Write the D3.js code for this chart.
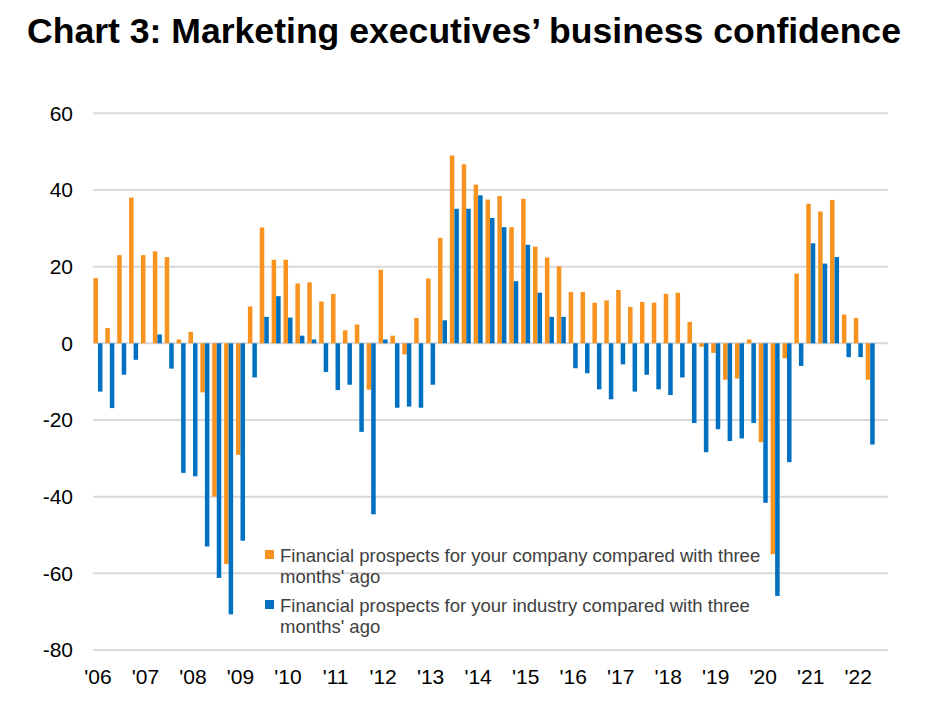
<!DOCTYPE html>
<html>
<head>
<meta charset="utf-8">
<script src="https://cdn.jsdelivr.net/npm/d3@7/dist/d3.min.js"></script>
<style>
  html, body { margin: 0; padding: 0; background: #fff; }
  svg { display: block; font-family: "Liberation Sans", Arial, sans-serif; }
</style>
</head>
<body>
<svg id="chart" width="930" height="709"></svg>
<script>
// ---- data (quarterly, 2006Q1 .. 2022Q3; last quarter has no data yet) ----
const years = ["'06","'07","'08","'09","'10","'11","'12","'13","'14","'15","'16","'17","'18","'19","'20","'21","'22"];
const quarters = [];
years.forEach(yr => ["Q1","Q2","Q3","Q4"].forEach(q => quarters.push(yr + q)));
const categories = quarters.slice(0, 67);

const companyValues = [
  17, 4, 23, 38, 23, 24, 22.5, 1, 3, -12.8, -40, -57.6, -29.1, 9.6, 30.2, 21.8,
  21.8, 15.6, 15.9, 10.9, 12.9, 3.4, 4.9, -12.1, 19.2, 2.0, -2.9, 6.6, 16.9, 27.5, 49.0, 46.7,
  41.4, 37.5, 38.4, 30.3, 37.7, 25.2, 22.4, 20.1, 13.4, 13.4, 10.6, 11.2, 13.9, 9.5, 10.8, 10.6,
  12.9, 13.2, 5.6, -0.9, -2.5, -9.5, -9.2, 1.0, -25.8, -55.0, -3.9, 18.2, 36.4, 34.4, 37.4, 7.5,
  6.6, -9.5
];
const industryValues = [
  -12.6, -16.9, -8.2, -4.3, 0, 2.3, -6.6, -33.8, -34.7, -53.0, -61.2, -70.7, -51.5, -8.9, 6.9, 12.3,
  6.7, 2.0, 1.0, -7.5, -12.2, -10.8, -23.1, -44.6, 1.0, -16.8, -16.5, -16.8, -10.8, 6.0, 35.1, 35.1,
  38.6, 32.7, 30.3, 16.2, 25.7, 13.2, 6.9, 6.9, -6.5, -7.8, -12.0, -14.6, -5.5, -12.6, -8.2, -12.0,
  -13.5, -8.9, -20.8, -28.4, -22.4, -25.5, -24.8, -20.8, -41.6, -65.9, -31.0, -5.9, 26.1, 20.8, 22.5, -3.6,
  -3.6, -26.4
];
const yTicks = [60, 40, 20, 0, -20, -40, -60, -80];
const seriesNames = ["company", "industry"];
const seriesLabels = [
  ["Financial prospects for your company compared with three", "months' ago"],
  ["Financial prospects for your industry compared with three", "months' ago"]
];
const seriesColors = ["#F7931E", "#0070C0"];
const titleText = "Chart 3: Marketing executives\u2019 business confidence";

// ---- layout ----
const svg = d3.select("#chart");
const plotLeft = 92, plotRight = 888, plotTop = 113.3, plotBottom = 650;

const x = d3.scaleBand().domain(categories).range([plotLeft, plotRight])
  .paddingInner(0.24).paddingOuter(0.12);
const x1 = d3.scaleBand().domain(seriesNames).range([0, x.bandwidth()]).padding(0);
const y = d3.scaleLinear().domain([-80, 60]).range([plotBottom, plotTop]);
const color = d3.scaleOrdinal().domain(seriesNames).range(seriesColors);

// title
svg.append("text")
  .attr("x", 27).attr("y", 43)
  .attr("font-size", 35.6).attr("font-weight", "bold").attr("fill", "#000")
  .text(titleText);

// gridlines
svg.append("g").selectAll("line").data(yTicks).join("line")
  .attr("x1", plotLeft + 1).attr("x2", plotRight)
  .attr("y1", d => y(d)).attr("y2", d => y(d))
  .attr("stroke", "#d9d9d9").attr("stroke-width", 2);

// y axis labels
const yAxis = d3.axisLeft(y).tickValues(yTicks).tickSize(0).tickPadding(0).tickFormat(d => String(d));
const gy = svg.append("g").attr("transform", "translate(73,0)").call(yAxis);
gy.select(".domain").remove();
gy.selectAll("text").attr("font-size", 21).attr("fill", "#000")
  .attr("font-family", "'Liberation Sans', Arial, sans-serif");

// bars
const rows = categories.map((c, i) => ({
  cat: c,
  values: [
    { key: "company", v: companyValues[i] },
    { key: "industry", v: industryValues[i] }
  ].filter(d => d.v !== undefined && d.v !== null)
}));
const groups = svg.append("g").selectAll("g").data(rows).join("g")
  .attr("transform", d => `translate(${x(d.cat)},0)`);
groups.selectAll("rect").data(d => d.values).join("rect")
  .attr("x", d => x1(d.key))
  .attr("width", x1.bandwidth())
  .attr("y", d => y(Math.max(0, d.v)))
  .attr("height", d => Math.abs(y(d.v) - y(0)))
  .attr("fill", d => color(d.key));

// x axis labels (one per year at Q1)
const xAxis = d3.axisBottom(x)
  .tickValues(categories.filter(c => c.endsWith("Q1")))
  .tickFormat(c => c.slice(0, 3))
  .tickSize(0).tickPadding(0);
const gx = svg.append("g").attr("transform", "translate(0,669)").call(xAxis);
gx.select(".domain").remove();
gx.selectAll("text").attr("font-size", 21).attr("fill", "#000")
  .attr("font-family", "'Liberation Sans', Arial, sans-serif");

// legend
const legendY = [562, 612];
seriesNames.forEach((s, i) => {
  const g = svg.append("g");
  g.append("rect").attr("x", 265).attr("y", legendY[i] - 12).attr("width", 9).attr("height", 9)
    .attr("fill", color(s));
  seriesLabels[i].forEach((t, j) => {
    g.append("text").attr("x", 280).attr("y", legendY[i] + j * 21)
      .attr("font-size", 18.5).attr("fill", "#404040").text(t);
  });
});
</script>
</body>
</html>
